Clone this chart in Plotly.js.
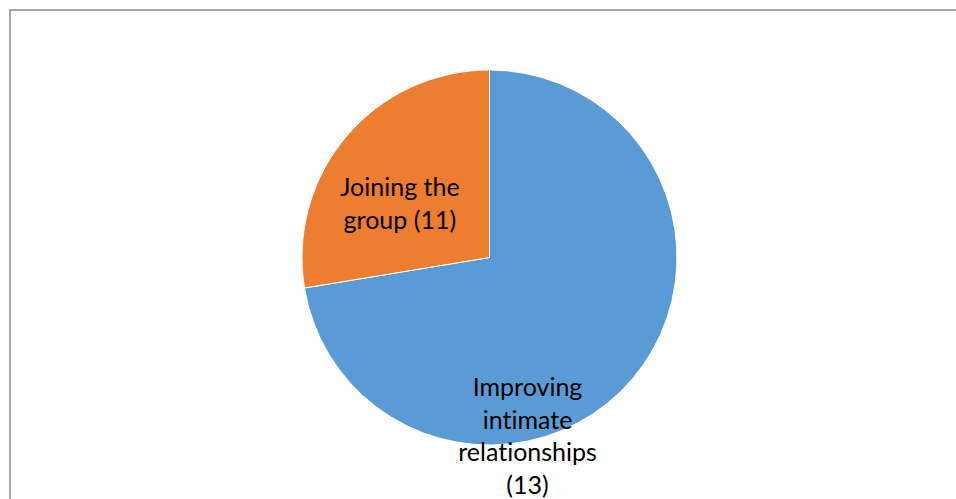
<!DOCTYPE html>
<html>
<head>
<meta charset="utf-8">
<script src="https://cdn.plot.ly/plotly-3.0.1.min.js"></script>
<style>
  html, body { margin: 0; padding: 0; background: #ffffff; }
  #wrap { position: relative; width: 956px; height: 499px; overflow: hidden; }
  #chart { width: 956px; height: 499px; }
  #frame { position: absolute; left: 9px; top: 9px; width: 1000px; height: 1000px;
           border-top: 2px solid #a6a6a6; border-left: 2px solid #a6a6a6; pointer-events: none; }
  #chart text { font-variant-ligatures: none; font-feature-settings: "liga" 0, "clig" 0; }
</style>
</head>
<body>
<div id="wrap">
  <div id="chart"></div>
  <div id="frame"></div>
</div>
<script>
// Data
var categories = ["Improving intimate relationships", "Joining the group"];
var labelLines = [["Improving", "intimate", "relationships"], ["Joining the", "group"]];
var counts = [13, 11];               // numbers printed in the labels
var sliceShares = [72.4, 27.6];      // slice sizes as drawn (percent of the circle)
var colors = ["#5B9BD5", "#ED7D31"];

// Label texts built from the data
function labelText(i) {
  var lines = labelLines[i].slice();
  if (i === 0) { lines.push("(" + counts[i] + ")"); }
  else { lines[lines.length - 1] += " (" + counts[i] + ")"; }
  return lines.join("<br>");
}

var trace = {
  type: "pie",
  labels: categories,
  values: sliceShares,
  sort: false,
  direction: "clockwise",
  rotation: 0,
  marker: { colors: colors, line: { color: "#ffffff", width: 1 } },
  textinfo: "none",
  hoverinfo: "skip",
  showlegend: false
};

var fontFamily = "Lato, 'Noto Sans', sans-serif";
var layout = {
  width: 956,
  height: 499,
  margin: { l: 302, r: 279, t: 70, b: 54 },
  paper_bgcolor: "#ffffff",
  plot_bgcolor: "#ffffff",
  showlegend: false,
  annotations: [
    { text: labelText(1), xref: "paper", yref: "paper", x: 0.262, y: 0.647,
      xanchor: "center", yanchor: "middle", showarrow: false, align: "center",
      font: { family: fontFamily, size: 25, color: "#000000" } },
    { text: labelText(0), xref: "paper", yref: "paper", x: 0.602, y: 0.027,
      xanchor: "center", yanchor: "middle", showarrow: false, align: "center",
      font: { family: fontFamily, size: 25, color: "#000000" } }
  ]
};

Plotly.newPlot("chart", [trace], layout, { staticPlot: true, displayModeBar: false });
</script>
</body>
</html>
